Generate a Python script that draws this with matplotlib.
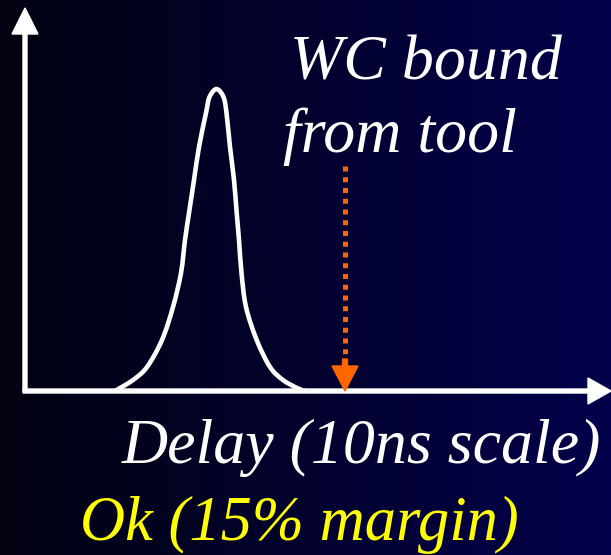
import matplotlib.pyplot as plt
import numpy as np
from matplotlib import font_manager
from matplotlib.path import Path
from matplotlib.patches import PathPatch

# Delay distribution sketch (delay units, height units = px)
delay = [90, 108, 122, 137, 148, 156, 160, 164, 169, 174, 181, 184.5, 191.5,
         198.5, 201.5, 205, 209, 211.7, 214, 216.5, 221, 231.7, 245, 258, 272, 280]
density = [0, 11, 24, 51, 84, 118, 151, 178, 211, 244, 278, 294, 302,
           294, 278, 244, 211, 178, 151, 118, 84, 51, 24, 11, 3, 0]

wc_bound = 320
wc_top = 225

title_lines = ["WC bound", "from tool"]
axis_label = "Delay (10ns scale)"
verdict = "Ok (15% margin)"


def serif_italic(size):
    # look for an installed Times-like italic file and use it directly
    for name in ["Liberation Serif", "Times New Roman", "Nimbus Roman", "DejaVu Serif"]:
        for f in font_manager.fontManager.ttflist:
            if f.name == name and f.style in ("italic", "oblique") and f.weight in (400, "normal", "regular"):
                return font_manager.FontProperties(fname=f.fname, size=size)
    return font_manager.FontProperties(family="serif", style="italic", size=size)


W, H = 611, 555
X0, Y0 = 25, 391  # origin of the sketched axes, in pixels

fig = plt.figure(figsize=(W / 100, H / 100), dpi=100)
ax = fig.add_axes([0, 0, 1, 1])
ax.set_xlim(-X0, W - X0)
ax.set_ylim(Y0 - H, Y0)
ax.axis("off")

# horizontal dark gradient background
left = np.array([3, 3, 18]) / 255
right = np.array([2, 0, 74]) / 255
t = np.linspace(0, 1, 256)
grad = (left[None, :] * (1 - t[:, None]) + right[None, :] * t[:, None])[None, :, :]
ax.imshow(grad, extent=[-X0, W - X0, Y0 - H, Y0], aspect="auto", zorder=0)

# axes with arrows
ax.arrow(0, 0, 0, Y0 - 8, width=4, head_width=26, head_length=26,
         length_includes_head=True, color="white", zorder=3)
ax.arrow(-2, 0, W - X0 + 2, 0, width=4, head_width=26, head_length=23,
         length_includes_head=True, color="white", zorder=3)

# the curve, drawn as a smooth bezier path through the read points
pts = np.column_stack([delay, density]).astype(float)
verts = [pts[0]]
codes = [Path.MOVETO]
for i in range(len(pts) - 1):
    p0 = pts[max(i - 1, 0)]
    p1 = pts[i]
    p2 = pts[i + 1]
    p3 = pts[min(i + 2, len(pts) - 1)]
    verts += [p1 + (p2 - p0) / 6, p2 - (p3 - p1) / 6, p2]
    codes += [Path.CURVE4] * 3
ax.add_patch(PathPatch(Path(verts, codes), facecolor="none", edgecolor="white",
                       lw=3.3, joinstyle="round", capstyle="round", zorder=4))

# dotted orange arrow for the WC bound
ax.plot([wc_bound, wc_bound], [wc_top, 30], color="#ff6600", lw=3.6,
        linestyle=(0, (1, 1.15)), dash_capstyle="butt", zorder=4)
ax.arrow(wc_bound, 32, 0, -32, width=5, head_width=26, head_length=25,
         length_includes_head=True, color="#ff6600", zorder=5)

fp = serif_italic(46)
ax.text(290 - X0, Y0 - 80, title_lines[0], color="white", va="baseline", fontproperties=fp)
ax.text(283 - X0, Y0 - 152, title_lines[1], color="white", va="baseline", fontproperties=fp)
ax.text(122 - X0, Y0 - 463, axis_label, color="white", va="baseline", fontproperties=fp)
ax.text(80 - X0, Y0 - 540, verdict, color="#ffff00", va="baseline",
        fontproperties=serif_italic(45))

fig.savefig("out.png", dpi=100)
